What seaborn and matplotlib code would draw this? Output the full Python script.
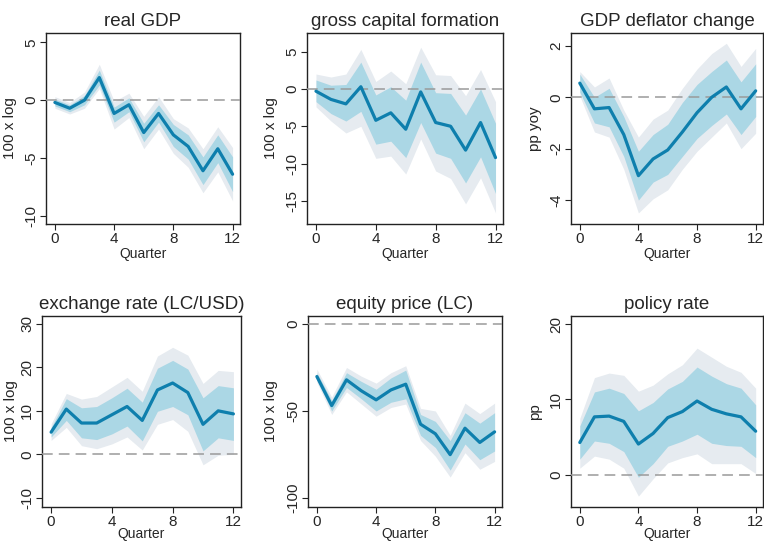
import numpy as np
import pandas as pd
import matplotlib
matplotlib.use("Agg")
import matplotlib.pyplot as plt
import seaborn as sns

quarters = list(range(13))

titles = ["real GDP", "gross capital formation", "GDP deflator change",
          "exchange rate (LC/USD)", "equity price (LC)", "policy rate"]
ylabels = ["100 x log", "100 x log", "pp yoy", "100 x log", "100 x log", "pp"]

# real GDP
gdp_med = [-0.2, -0.7, 0.0, 1.95, -1.15, -0.4, -2.8, -1.15, -3.0, -4.0, -6.1, -4.2, -6.4]
gdp_in_hi = [0.1, -0.4, 0.4, 2.6, -0.6, 0.2, -2.0, -0.4, -2.1, -3.0, -4.9, -3.0, -4.9]
gdp_in_lo = [-0.5, -1.0, -0.4, 1.3, -1.9, -1.0, -3.6, -1.9, -4.0, -5.1, -7.3, -5.4, -7.9]
gdp_out_hi = [0.3, -0.2, 0.7, 3.1, -0.1, 0.6, -1.4, 0.3, -1.6, -2.4, -4.2, -2.3, -4.1]
gdp_out_lo = [-0.7, -1.2, -0.7, 1.0, -2.5, -1.5, -4.2, -2.5, -4.6, -5.8, -8.0, -6.2, -8.7]

# gross capital formation
gcf_med = [-0.3, -1.4, -2.0, 0.3, -4.2, -3.2, -5.4, -0.4, -4.5, -5.0, -8.2, -4.5, -9.2]
gcf_in_hi = [1.2, 0.5, 0.6, 3.6, -0.8, 0.3, -1.5, 3.6, -0.5, -0.6, -3.5, 0.0, -4.6]
gcf_in_lo = [-1.7, -3.3, -4.3, -3.0, -7.4, -7.0, -9.2, -4.5, -8.6, -9.3, -12.6, -9.1, -14.0]
gcf_out_hi = [2.0, 1.6, 2.0, 5.3, 1.0, 2.4, 0.7, 5.6, 1.9, 1.8, -0.9, 2.6, -1.7]
gcf_out_lo = [-2.4, -4.3, -5.9, -5.0, -9.3, -9.0, -11.4, -6.7, -11.0, -12.0, -15.4, -11.9, -16.6]

# GDP deflator change
def_med = [0.55, -0.45, -0.4, -1.45, -3.05, -2.4, -2.05, -1.35, -0.6, 0.0, 0.4, -0.45, 0.25]
def_in_hi = [0.9, 0.0, 0.35, -0.75, -2.1, -1.45, -1.05, -0.2, 0.5, 1.0, 1.45, 0.6, 1.3]
def_in_lo = [0.2, -1.0, -1.15, -2.3, -4.0, -3.3, -3.0, -2.3, -1.6, -1.1, -0.65, -1.45, -0.75]
def_out_hi = [1.0, 0.4, 0.75, -0.5, -1.55, -0.85, -0.5, 0.35, 1.1, 1.7, 2.1, 1.2, 1.9]
def_out_lo = [0.05, -1.35, -1.55, -2.8, -4.5, -3.95, -3.6, -2.8, -2.1, -1.55, -1.0, -2.0, -1.4]

# exchange rate
fx_med = [5.1, 10.4, 7.2, 7.2, 9.1, 11.0, 7.8, 14.8, 16.4, 14.2, 6.9, 10.0, 9.3]
fx_in_hi = [6.2, 12.8, 10.7, 11.0, 13.0, 15.2, 12.0, 19.8, 21.6, 19.6, 13.0, 15.8, 15.3]
fx_in_lo = [4.0, 7.8, 3.8, 3.4, 4.7, 6.5, 3.1, 9.9, 11.0, 9.1, 0.8, 3.8, 3.2]
fx_out_hi = [7.0, 14.0, 12.7, 13.3, 15.5, 17.7, 14.5, 22.6, 24.6, 22.8, 16.3, 19.3, 19.0]
fx_out_lo = [3.2, 6.2, 2.0, 1.3, 2.4, 4.0, 1.0, 6.9, 8.0, 5.3, -2.4, -0.2, 0.0]

# equity price
eq_med = [-30.2, -46.9, -32.1, -38.4, -43.6, -37.9, -34.6, -57.6, -63.1, -75.1, -59.9, -68.1, -62.0]
eq_in_hi = [-28, -44, -28, -33, -37.5, -31, -26.5, -52, -56, -67, -51, -57, -51]
eq_in_lo = [-32, -50, -36.5, -43, -50, -45, -43, -64, -71, -84, -69, -78, -73]
eq_out_hi = [-26, -42, -25, -30, -34, -28, -24, -48.5, -50, -64, -45.5, -51.5, -45.5]
eq_out_lo = [-33.5, -52, -39, -46, -53, -48, -46, -67, -76, -88, -74, -83.5, -79]

# policy rate
pr_med = [4.3, 7.7, 7.8, 7.1, 4.1, 5.5, 7.6, 8.4, 9.8, 8.7, 8.1, 7.7, 5.8]
pr_in_hi = [6.5, 11.0, 11.5, 10.8, 8.5, 9.6, 11.4, 12.4, 14.3, 13.1, 12.1, 11.5, 9.3]
pr_in_lo = [2.1, 4.5, 4.2, 3.1, -0.3, 1.5, 3.8, 4.5, 5.4, 4.2, 3.9, 3.8, 2.3]
pr_out_hi = [7.5, 12.9, 13.5, 13.2, 11.1, 11.9, 13.4, 14.6, 16.8, 15.6, 14.4, 13.6, 11.5]
pr_out_lo = [0.9, 2.5, 2.1, 0.9, -2.8, -0.5, 1.6, 2.3, 2.8, 1.5, 1.5, 1.5, 0.2]

yticks = [[-10, -5, 0, 5], [-15, -10, -5, 0, 5], [-4, -2, 0, 2],
          [-10, 0, 10, 20, 30], [-100, -50, 0], [0, 10, 20]]
xticks = [0, 4, 8, 12]

series = [
    (gdp_med, gdp_in_lo, gdp_in_hi, gdp_out_lo, gdp_out_hi),
    (gcf_med, gcf_in_lo, gcf_in_hi, gcf_out_lo, gcf_out_hi),
    (def_med, def_in_lo, def_in_hi, def_out_lo, def_out_hi),
    (fx_med, fx_in_lo, fx_in_hi, fx_out_lo, fx_out_hi),
    (eq_med, eq_in_lo, eq_in_hi, eq_out_lo, eq_out_hi),
    (pr_med, pr_in_lo, pr_in_hi, pr_out_lo, pr_out_hi),
]

sns.set_style("white")
plt.rcParams["font.family"] = ["Liberation Sans", "DejaVu Sans"]

W, H = 764, 541
fig = plt.figure(figsize=(W / 100, H / 100), dpi=100)

# axes boxes in pixels: left, top, right, bottom
boxes = [(46, 33, 240, 224), (307, 33, 503, 224), (571, 33, 763, 224),
         (42, 316, 241, 507), (308, 316, 502, 507), (571, 316, 763, 507)]
ylims = [(-10.7, 5.8), (-18.1, 7.5), (-4.93, 2.5),
         (-12.1, 31.8), (-105.2, 4.6), (-4.24, 21.06)]
ylab_x = [-29, -29, -29, -24, -30, -29]
xlab_dy = [30, 30, 30, 27, 27, 27]

LINE = "#0e7fad"
INNER = "#abd7e5"
OUTER = "#e6ebf0"

for i, (title, ylab, (med, ilo, ihi, olo, ohi)) in enumerate(zip(titles, ylabels, series)):
    l, t, r, b = boxes[i]
    ax = fig.add_axes([l / W, (H - b) / H, (r - l) / W, (b - t) / H])
    df = pd.DataFrame({"Quarter": quarters, "med": med, "ilo": ilo, "ihi": ihi,
                       "olo": olo, "ohi": ohi})
    ax.fill_between(df["Quarter"], df["olo"], df["ohi"], color=OUTER, lw=0, zorder=1)
    ax.fill_between(df["Quarter"], df["ilo"], df["ihi"], color=INNER, lw=0, zorder=2)
    ax.axhline(0, color="#9a9a9a", lw=1.1, dashes=(7, 4), zorder=3)
    sns.lineplot(data=df, x="Quarter", y="med", ax=ax, color=LINE, lw=2.3, zorder=4)
    ax.set_xlim(-0.6, 12.5)
    ax.set_ylim(*ylims[i])
    ax.set_xticks(xticks)
    ax.set_yticks(yticks[i])
    ax.set_yticklabels([str(v) for v in yticks[i]], rotation=90, va="center")
    ax.tick_params(axis="both", which="both", direction="out", length=4, width=0.8,
                   color="#222222", labelsize=11, pad=1.5, left=True, bottom=True)
    ax.set_title(title, fontsize=13.5, pad=5)
    ax.set_xlabel("Quarter", fontsize=10, va="center")
    ax.xaxis.set_label_coords(0.5, -xlab_dy[i] / (b - t))
    ax.set_ylabel(ylab, fontsize=11)
    ax.yaxis.set_label_coords(ylab_x[i] / (r - l), 0.5)
    for s in ax.spines.values():
        s.set_color("#222222")
        s.set_linewidth(1.0)
        s.set_visible(True)

fig.savefig("out.png", dpi=100)
